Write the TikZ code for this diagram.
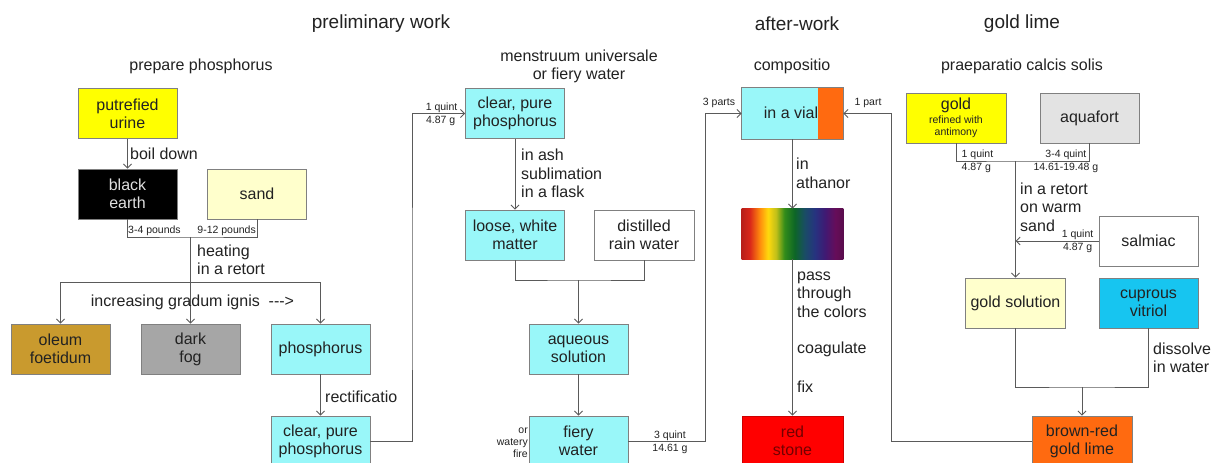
\documentclass[tikz,border=0pt]{standalone}
\usepackage{fontspec}
\setmainfont{Liberation Sans}
\usetikzlibrary{arrows.meta,calc}
\definecolor{txt}{HTML}{222222}
\definecolor{boxline}{HTML}{808080}
\definecolor{conn}{HTML}{5A5A5A}
\definecolor{cyanbox}{HTML}{99F7F9}
\definecolor{yel}{HTML}{FFFF00}
\definecolor{pale}{HTML}{FFFFCC}
\definecolor{ochre}{HTML}{C99A2E}
\definecolor{fog}{HTML}{A6A6A6}
\definecolor{aqua}{HTML}{E3E3E3}
\definecolor{cupr}{HTML}{17C5F0}
\definecolor{orng}{HTML}{FF6A10}
\definecolor{redst}{HTML}{FF0000}
\definecolor{rb0}{rgb}{0.72,0.12,0.10}
\definecolor{rb1}{rgb}{0.85,0.15,0.10}
\definecolor{rb2}{rgb}{1.00,0.55,0.05}
\definecolor{rb3}{rgb}{1.00,0.85,0.05}
\definecolor{rb4}{rgb}{0.75,0.75,0.10}
\definecolor{rb5}{rgb}{0.20,0.55,0.10}
\definecolor{rb6}{rgb}{0.05,0.40,0.15}
\definecolor{rb7}{rgb}{0.10,0.30,0.40}
\definecolor{rb8}{rgb}{0.15,0.20,0.50}
\definecolor{rb9}{rgb}{0.25,0.10,0.45}
\definecolor{rb10}{rgb}{0.40,0.05,0.35}
\definecolor{rb11}{rgb}{0.35,0.05,0.30}
\pgfdeclarehorizontalshading{rainbow}{100bp}{color(0bp)=(rb0); color(25bp)=(rb0); color(29bp)=(rb1); color(34bp)=(rb2); color(38bp)=(rb3); color(42bp)=(rb4); color(46bp)=(rb5); color(51bp)=(rb6); color(56bp)=(rb7); color(61bp)=(rb8); color(66bp)=(rb9); color(71bp)=(rb10); color(75bp)=(rb11); color(100bp)=(rb11)}
\tikzset{
  box/.style={draw=boxline, line width=0.9pt, minimum width=99pt, minimum height=50pt, inner sep=0pt, align=center, font=\fontsize{16}{18}\selectfont, text=txt},
  line/.style={draw=conn, line width=0.9pt},
  arr/.style={line, -{Straight Barb[length=4pt,width=8pt]}},
  lbl/.style={font=\fontsize{16}{18.5}\selectfont, text=txt, align=left, inner sep=0pt, anchor=west},
  small/.style={font=\fontsize{10.5}{12}\selectfont, text=txt, inner sep=0.5pt},
  head/.style={font=\fontsize{19}{22}\selectfont, text=txt, inner sep=0pt},
  sub/.style={font=\fontsize{16}{18}\selectfont, text=txt, inner sep=0pt, align=center}
}
\begin{document}
\begin{tikzpicture}[x=1pt,y=-1pt]
\useasboundingbox[fill=white] (0,0) rectangle (1211,463);
% headers
\node[head] (h1) at (381,24) {preliminary work};
\node[head] (h2) at (797,24) {after-work};
\node[head] (h3) at (1022,24) {gold lime};
\node[sub] (s1) at (201,66) {prepare phosphorus};
\node[sub] (s2) at (579,66) {menstruum universale\\or fiery water};
\node[sub] (s3) at (792,66) {compositio};
\node[sub] (s4) at (1022,66) {praeparatio calcis solis};
% left section
\node[box, fill=yel] (pu) at (127.5,113.5) {putrefied\\urine};
\node[box, fill=black, text=white!88!black] (be) at (127.5,194) {black\\earth};
\node[box, fill=pale] (sa) at (257,194) {sand};
\node[box, fill=ochre] (ol) at (60.5,349) {oleum\\foetidum};
\node[box, fill=fog] (df) at (190.5,349) {dark\\fog};
\node[box, fill=cyanbox] (ph) at (320.5,349) {phosphorus};
\node[box, fill=cyanbox] (cp1) at (320.5,441) {clear, pure\\phosphorus};
\draw[arr] (pu.south) -- (be.north);
\node[lbl] (l1) at (130,154) {boil down};
\coordinate (m1) at (190.5,237);
\draw[line] (be.south) |- (m1) -| (sa.south);
\node[small, anchor=south west] (q1) at (127.5,236.5) {3-4 pounds};
\node[small, anchor=south east] (q2) at (256.5,236.5) {9-12 pounds};
\node[lbl] (l2) at (197,260) {heating\\in a retort};
\coordinate (bL) at (60.5,282);
\coordinate (bR) at (320.5,282);
\draw[line] (bL) -- (bR);
\draw[arr] (bL) -- (ol.north);
\draw[arr] (m1) -- (df.north);
\draw[arr] (bR) -- (ph.north);
\node[lbl, anchor=center] (l3) at (192.5,302) {increasing gradum ignis\ \ -{}-{}->};
\draw[arr] (ph.south) -- (cp1.north);
\node[lbl] (l4) at (325,397) {rectificatio};
% menstruum
\node[box, fill=cyanbox] (cp2) at (515,113.5) {clear, pure\\phosphorus};
\node[box, fill=cyanbox] (lw) at (515,235) {loose, white\\matter};
\node[box, fill=white, minimum width=100pt] (rw) at (644,235) {distilled\\rain water};
\node[box, fill=cyanbox] (aq) at (578.5,349) {aqueous\\solution};
\node[box, fill=cyanbox] (fw) at (578.5,441) {fiery\\water};
\coordinate (cL) at (412,300);
\draw[arr] (cp1.east) -| (cL) |- (cp2.west);
\node[small, anchor=south east] (q3) at (458,113) {1 quint};
\node[small, anchor=north east] (q4) at (456,115) {4.87 g};
\draw[arr] (cp2.south) -- (lw.north);
\node[lbl] (l5) at (521,173.5) {in ash\\sublimation\\in a flask};
\coordinate (m2) at (578.5,280);
\draw[line] (lw.south) |- (m2) -| (rw.south);
\draw[arr] (m2) -- (aq.north);
\draw[arr] (aq.south) -- (fw.north);
\node[small, align=right, anchor=east, inner sep=0pt] (q5) at (528,443) {or\\watery\\fire};
% after-work
\node[box, fill=cyanbox, draw=none, minimum width=101pt, minimum height=51pt] (vi) at (792.5,113.5) {};
\fill[orng] ($(vi.north east)+(-25,0)$) rectangle (vi.south east);
\draw[boxline, line width=0.9pt] (vi.north west) rectangle (vi.south east);
\node[lbl, anchor=center] (vt) at (791,113) {in a vial};
\node[box, draw=none, minimum width=101pt] (rb) at (792.5,234) {};
\shade[shading=rainbow] (rb.north west) rectangle (rb.south east);
\node[box, fill=redst, draw=redst!80!black, minimum width=101pt, text=black!55!red] (rs) at (792.5,441) {red\\stone};
\coordinate (cM) at (705.5,300);
\draw[arr] (fw.east) -| (cM) |- (vi.west);
\node[small, anchor=south] (q6) at (670,441) {3 quint};
\node[small, anchor=north] (q7) at (670,443) {14.61 g};
\node[small] (q8) at (719,103) {3 parts};
\node[small] (q9) at (868,103) {1 part};
\draw[arr] (vi.south) -- (rb.north);
\node[lbl] (l6) at (796,173.5) {in\\athanor};
\draw[arr] (rb.south) -- (rs.north);
\node[lbl] (l7) at (797,294.5) {pass\\through\\the colors};
\node[lbl] (l8) at (797,349) {coagulate};
\node[lbl] (l9) at (797,387) {fix};
% gold lime
\node[box, fill=yel, minimum width=100pt] (go) at (956,118) {};
\node[font=\fontsize{16}{18}\selectfont, text=txt, inner sep=0pt] (gt) at (956,105) {gold};
\node[small, align=center, inner sep=0pt, font=\fontsize{10.5}{11.5}\selectfont] (gt2) at (956,127) {refined with\\antimony};
\node[box, fill=aqua] (af) at (1089.5,118) {aquafort};
\node[box, fill=white] (sm) at (1148.5,241) {salmiac};
\node[box, fill=pale, minimum width=100pt] (gs) at (1015.5,303) {gold solution};
\node[box, fill=cupr] (cu) at (1148.5,303) {cuprous\\vitriol};
\node[box, fill=orng, minimum width=100pt] (bx) at (1082,441) {brown-red\\gold lime};
\coordinate (m3) at (1015.5,161);
\draw[line] (go.south) |- (m3) -| (af.south);
\node[small, anchor=south west] (q10) at (961,160.5) {1 quint};
\node[small, anchor=north west] (q11) at (961,162) {4.87 g};
\node[small, anchor=south east] (q12) at (1087,160.5) {3-4 quint};
\node[small, anchor=north east] (q13) at (1099,162) {14.61-19.48 g};
\draw[arr] (m3) -- (gs.north);
\node[lbl] (l10) at (1020,207) {in a retort\\on warm\\sand};
\coordinate (sj) at (1015.5,241);
\draw[arr] (sm.west) -- (sj);
\node[small, anchor=south east] (q14) at (1094,240.5) {1 quint};
\node[small, anchor=north east] (q15) at (1093,242) {4.87 g};
\coordinate (m4) at (1082,387);
\draw[line] (gs.south) |- (m4) -| (cu.south);
\draw[arr] (m4) -- (bx.north);
\node[lbl] (l11) at (1153,358) {dissolve\\in water};
\coordinate (cR) at (891.5,300);
\draw[arr] (bx.west) -| (cR) |- (vi.east);
\end{tikzpicture}
\end{document}
